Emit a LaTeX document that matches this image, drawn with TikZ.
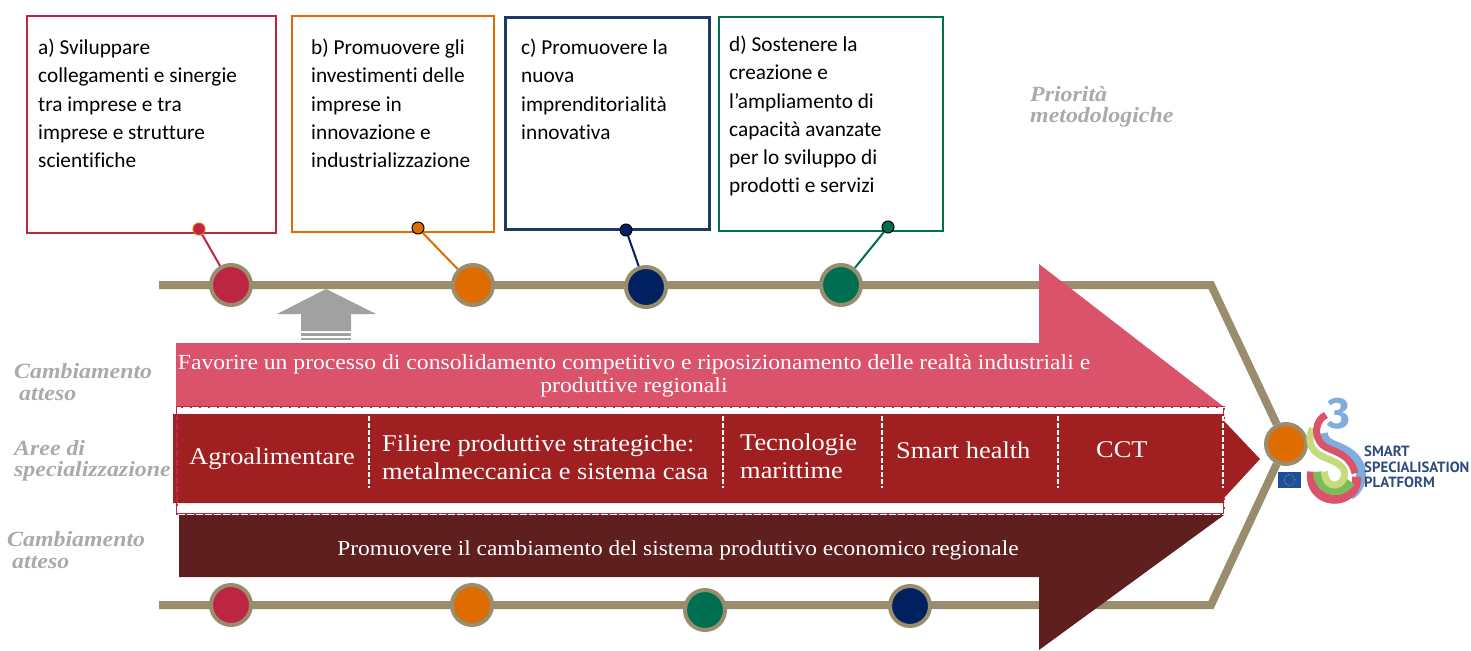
\documentclass[tikz,border=0pt]{standalone}
\usepackage{fontspec}
\setmainfont[Ligatures=NoCommon]{Carlito}
\newfontfamily\bandfont[FakeStretch=1.1]{Liberation Serif}
\newfontfamily\logofont{PT Sans}
\newfontfamily\threefont{Fira Sans}
\usetikzlibrary{calc}
\usetikzlibrary{positioning}
\definecolor{tan}{HTML}{9A8D6E}
\definecolor{crimsonp}{HTML}{BC2643}
\definecolor{orangep}{HTML}{DE6C00}
\definecolor{navyp}{HTML}{002060}
\definecolor{navyline}{HTML}{1F3864}
\definecolor{greenp}{HTML}{006F51}
\definecolor{pinkband}{HTML}{DB526B}
\definecolor{redband}{HTML}{A01F20}
\definecolor{darkband}{HTML}{5E1F1E}
\definecolor{greylabel}{HTML}{AAAAAA}
\definecolor{logoblue}{HTML}{7FAEDD}
\definecolor{logolime}{HTML}{C6DB7C}
\definecolor{logogreen}{HTML}{7DBB5A}
\definecolor{logotext}{HTML}{2F4B7C}
\definecolor{flagblue}{HTML}{1D4F9C}
\tikzset{
    priobox/.style={draw, fill=white, line width=2pt, inner sep=0pt},
    priotext/.style={anchor=north west, inner sep=0pt, align=left, black, font=\fontsize{21.3}{28.2}\selectfont},
    milestone/.style={circle, draw=tan, line width=4pt, inner sep=0pt, minimum size=40pt},
    dot/.style={circle, draw, line width=1pt, inner sep=0pt, minimum size=12pt},
    rail/.style={draw=tan, line width=8pt},
    link/.style={line width=2pt},
    side/.style={anchor=west, inner sep=0pt, align=left, greylabel, font=\fontsize{21.7}{21.5}\bandfont\bfseries\itshape},
    band/.style={inner sep=0pt, white, align=left, font=\fontsize{24}{28}\bandfont},
    bar/.style={white, line width=2pt, dash pattern=on 5pt off 2pt}
}
\begin{document}
\begin{tikzpicture}[x=1pt, y=-1pt]
    \useasboundingbox (0,0) rectangle (1471,650);

    \node[priobox, draw=crimsonp, minimum width=249pt, minimum height=217pt] (boxa) at (151.5,124.5) {};
    \node[priobox, draw=orangep, minimum width=202pt, minimum height=216pt] (boxb) at (393,124) {};
    \node[priobox, draw=navyline, line width=3pt, minimum width=204pt, minimum height=211pt] (boxc) at (607,123.5) {};
    \node[priobox, draw=greenp, minimum width=224pt, minimum height=214pt] (boxd) at (831,124) {};
    \node[priotext] (texta) at (38,39) {a) Sviluppare\\collegamenti e sinergie\\tra imprese e tra\\imprese e strutture\\scientifiche};
    \node[priotext] (textb) at (311,39) {b) Promuovere gli\\investimenti delle\\imprese in\\innovazione e\\industrializzazione};
    \node[priotext] (textc) at (521,39) {c) Promuovere la\\nuova\\imprenditorialità\\innovativa};
    \node[priotext] (textd) at (729,36) {d) Sostenere la\\creazione e\\l’ampliamento di\\capacità avanzate\\per lo sviluppo di\\prodotti e servizi};

    \node[milestone, fill=orangep] (hub) at (1286,444) {};
    \coordinate (topstart) at (159,285);
    \coordinate (topbend) at (1211,285);
    \coordinate (botstart) at (159,605);
    \coordinate (botbend) at (1211,605);
    \draw[rail] (topstart) -- (topbend) -- (hub);
    \draw[rail] (botstart) -- (botbend) -- (hub);

    \fill[pinkband] (176,343) -- (1039,343) -- (1039,264) -- (1224,407) -- (176,407) -- cycle;
    \fill[darkband] (179,515) -- (1224,515) -- (1039,650) -- (1039,577) -- (179,577) -- cycle;
    \draw[crimsonp, line width=2.5pt] (177,407) rectangle (1224,514);
    \draw[white, line width=1pt, dash pattern=on 7pt off 2pt] (177,407) rectangle (1224,514);
    \fill[redband] (173,414) -- (1224,414) -- (1224,421) -- (1260,459) -- (1224,498) -- (1224,503) -- (173,503) -- cycle;
    \draw[crimsonp, line width=1.5pt, dash pattern=on 7pt off 2pt] (177,414) -- (177,503);

    \fill[greylabel!95!black] (326,289) -- (376,314) -- (351,314) -- (351,331) -- (301,331) -- (301,314) -- (277,314) -- cycle;
    \fill[greylabel!95!black] (301,333) rectangle (351,336);
    \fill[greylabel!95!black] (301,338) rectangle (351,339.5);

    \node[milestone, fill=crimsonp] (ma) at (231,285) {};
    \node[milestone, fill=orangep] (mb) at (473,285) {};
    \node[milestone, fill=navyp] (mc) at (646,287) {};
    \node[milestone, fill=greenp] (md) at (841,285) {};
    \node[milestone, fill=crimsonp] (na) at (231,605) {};
    \node[milestone, fill=orangep] (nb) at (472,605) {};
    \node[milestone, fill=greenp] (nc) at (705,610) {};
    \node[milestone, fill=navyp] (nd) at (910,606) {};

    \node[dot, draw=orangep, fill=crimsonp] (dota) at (199,229) {};
    \node[dot, draw=black, fill=orangep] (dotb) at (418,228) {};
    \node[dot, draw=black, fill=navyp] (dotc) at (626,230) {};
    \node[dot, draw=black, fill=greenp] (dotd) at (888,227) {};
    \draw[link, crimsonp] (dota) -- (ma);
    \draw[link, orangep] (dotb) -- (mb);
    \draw[link, navyp] (dotc) -- (mc);
    \draw[link, greenp] (dotd) -- (md);

    \node[side] (prio) at (1030,107) {Priorità\\metodologiche};
    \node[side] (atta) at (14,382) {Cambiamento\\\hspace{5pt}atteso};
    \node[side] (aree) at (14,461) {Aree di\\specializzazione};
    \node[side] (attb) at (7,550) {Cambiamento\\\hspace{5pt}atteso};

    \node[band, align=center, font=\fontsize{21.5}{23}\bandfont] (favorire) at (634,376) {Favorire un processo di consolidamento competitivo e riposizionamento delle realtà industriali e\\produttive regionali};
    \node[band, anchor=west] (agro) at (189,459) {Agroalimentare};
    \node[band, anchor=west] (filiere) at (382,457) {Filiere produttive strategiche:\\metalmeccanica e sistema casa};
    \node[band, anchor=west] (tecno) at (740,456) {Tecnologie\\marittime};
    \node[band, anchor=west] (health) at (896,450) {Smart health};
    \node[band, anchor=west] (cct) at (1096,450) {CCT};
    \node[band, align=center, font=\fontsize{21.3}{23}\bandfont] (promuovere) at (678,550) {Promuovere il cambiamento del sistema produttivo economico regionale};

    \foreach \xbar in {369,723,882,1058,1223} {
        \draw[bar] (\xbar,416) -- (\xbar,488);
    }

    \fill[flagblue] (1278,472) rectangle (1301,488);
    \draw[yellow!70!black, line width=0.6pt, dash pattern=on 1pt off 1.2pt] (1289.5,480) circle (5.5pt);
    \begin{scope}[shift={(1180,370)}, x=0.3333pt, y=-0.3333pt, line cap=butt]
        \draw[logoblue, line width=10pt] (428,190) .. controls (430,225) and (470,225) .. (505,248) .. controls (560,285) and (550,350) .. (510,375);
        \draw[pinkband, line width=9pt] (395,305) .. controls (385,375) and (455,405) .. (500,378) .. controls (520,368) and (532,345) .. (530,320);
        \draw[logogreen, line width=9pt] (413,305) .. controls (413,360) and (480,385) .. (512,335);
        \draw[logolime, line width=7pt] (398,175) .. controls (378,220) and (395,248) .. (440,265) .. controls (480,280) and (510,300) .. (485,335) .. controls (465,355) and (435,345) .. (433,305);
        \draw[pinkband, line width=7pt] (438,135) .. controls (405,150) and (400,200) .. (428,225) .. controls (450,245) and (510,245) .. (525,310);
    \end{scope}
    \node[inner sep=0pt, logoblue, font=\fontsize{44}{44}\threefont\bfseries] (three) at (1339,414) {3};
    \node[inner sep=0pt, anchor=west, align=left, logotext, font=\fontsize{14.8}{15.5}\logofont\bfseries] (logo) at (1364,467) {SMART\\SPECIALISATION\\PLATFORM};
\end{tikzpicture}
\end{document}
